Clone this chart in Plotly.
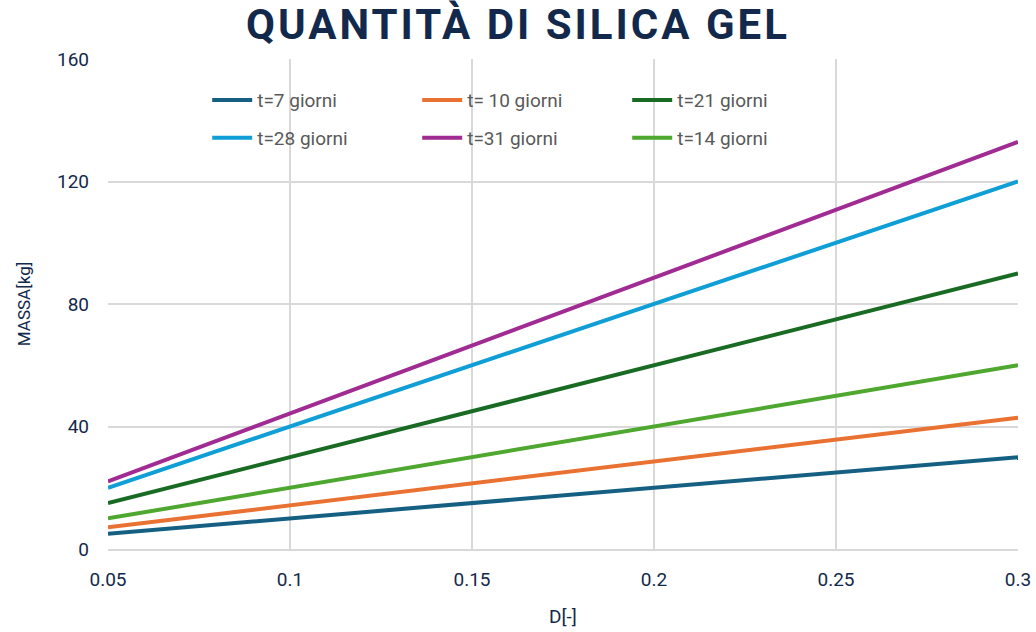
import plotly.graph_objects as go

D = [0.05, 0.10, 0.15, 0.20, 0.25, 0.30]
t7 = [5.0, 10.0, 15.0, 20.0, 25.0, 30.0]
t10 = [7.1, 14.3, 21.4, 28.6, 35.7, 42.9]
t21 = [15.0, 30.0, 45.0, 60.0, 75.0, 90.0]
t28 = [20.0, 40.0, 60.0, 80.0, 100.0, 120.0]
t31 = [22.1, 44.3, 66.4, 88.6, 110.7, 132.9]
t14 = [10.0, 20.0, 30.0, 40.0, 50.0, 60.0]

series_names = ["t=7 giorni", "t= 10 giorni", "t=21 giorni", "t=28 giorni", "t=31 giorni", "t=14 giorni"]
series_values = [t7, t10, t21, t28, t31, t14]
colors = ["#156082", "#E97132", "#196B24", "#0F9ED5", "#A02B93", "#4EA72E"]
legend_rows = ["legend", "legend", "legend", "legend2", "legend2", "legend2"]

x_tickvals = [0.05, 0.1, 0.15, 0.2, 0.25, 0.3]
x_ticktext = ["0.05", "0.1", "0.15", "0.2", "0.25", "0.3"]
y_tickvals = [0, 40, 80, 120, 160]

fig = go.Figure()
for name, vals, c, lg in zip(series_names, series_values, colors, legend_rows):
    fig.add_trace(go.Scatter(x=D, y=vals, mode="lines", name=name, legend=lg,
                             line=dict(color=c, width=4)))

legend_common = dict(orientation="h", x=0.109, xanchor="left", yanchor="middle",
                     entrywidth=155, entrywidthmode="pixels",
                     bgcolor="rgba(0,0,0,0)",
                     font=dict(family="Roboto", size=19, color="#595959"),
                     itemwidth=40)

fig.update_layout(
    width=1036, height=632,
    paper_bgcolor="white", plot_bgcolor="white",
    margin=dict(l=108, r=18, t=59, b=83, autoexpand=False),
    title=dict(text='<span style="letter-spacing:3px">QUANTITÀ DI SILICA GEL</span>',
               x=0.5, xanchor="center",
               y=0.985, yanchor="top",
               font=dict(family="Roboto", size=42, color="#13294B", weight="bold")),
    showlegend=True,
    legend=dict(legend_common, y=0.916),
    legend2=dict(legend_common, y=0.839),
    xaxis=dict(range=[0.05, 0.3], tickvals=x_tickvals, ticktext=x_ticktext,
               automargin=False,
               showgrid=True, gridcolor="#D9D9D9", gridwidth=1.5,
               showline=True, linecolor="#D9D9D9", linewidth=1.5,
               zeroline=False, ticks="", ticklabelstandoff=12,
               tickfont=dict(family="Roboto", size=19, color="#13294B"),
               title=dict(text="D[-]", standoff=20,
                          font=dict(family="Roboto", size=19, color="#13294B"))),
    yaxis=dict(range=[0, 160], tickvals=y_tickvals, automargin=False,
               showgrid=True, gridcolor="#D9D9D9", gridwidth=1.5,
               showline=False, zeroline=False, ticks="",
               ticklabelstandoff=18,
               tickfont=dict(family="Roboto", size=19, color="#13294B"),
               title=dict(text="MASSA[kg]", standoff=22,
                          font=dict(family="Roboto", size=17, color="#13294B"))),
)

fig.write_html("out.html", config={"displayModeBar": False},
               post_script="document.body.style.margin='0';document.body.style.overflow='hidden';")
